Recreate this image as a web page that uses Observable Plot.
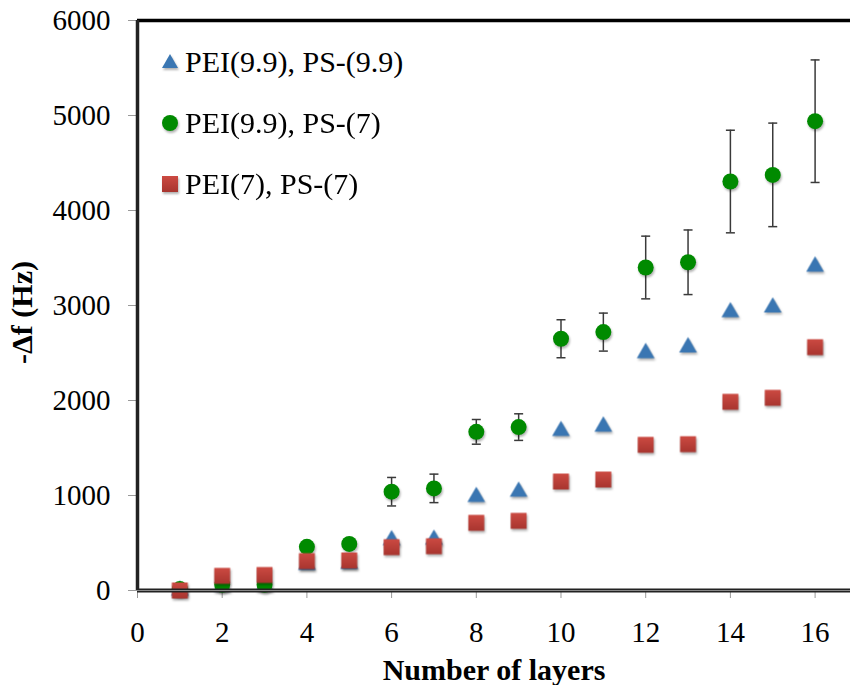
<!DOCTYPE html>
<html>
<head>
<meta charset="utf-8">
<script src="https://cdn.jsdelivr.net/npm/d3@7"></script>
<script src="https://cdn.jsdelivr.net/npm/@observablehq/plot@0.6"></script>
<style>
  body { margin: 0; background: white; }
  #wrap { position: relative; width: 850px; height: 685px; font-family: "Liberation Serif", "Times New Roman", serif; }
  #legend { position: absolute; left: 161px; top: 0; font-size: 30px; color: #000; }
  .row { position: absolute; left: 0; white-space: nowrap; display: flex; align-items: center; height: 34px; }
  .row svg { margin-right: 6px; overflow: visible; }
  .shadow { filter: drop-shadow(1px 2px 1px rgba(0,0,0,0.3)); }
  #wrap svg g[aria-label="x-axis tick label"] text, #wrap svg g[aria-label="y-axis tick label"] text,
  #wrap svg g[aria-label="x-axis"] text, #wrap svg g[aria-label="y-axis"] text { font-size: 29px; }
</style>
</head>
<body>
<div id="wrap"></div>
<script>
const layers = [1, 2, 3, 4, 5, 6, 7, 8, 9, 10, 11, 12, 13, 14, 15, 16];
const seriesNames = ["PEI(9.9), PS-(9.9)", "PEI(9.9), PS-(7)", "PEI(7), PS-(7)"];
const blueValues = [0, 40, 45, 270, 280, 530, 535, 985, 1040, 1680, 1725, 2500, 2560, 2930, 2980, 3410];
const greenValues = [15, 60, 60, 460, 490, 1040, 1075, 1670, 1720, 2650, 2720, 3400, 3455, 4305, 4375, 4940];
const greenErrors = [0, 0, 0, 0, 0, 150, 150, 130, 140, 200, 200, 330, 340, 540, 545, 645];
const redValues = [0, 154, 163, 309, 316, 456, 466, 712, 733, 1147, 1168, 1533, 1540, 1986, 2028, 2561];
const xTicks = [0, 2, 4, 6, 8, 10, 12, 14, 16];
const yTicks = [0, 1000, 2000, 3000, 4000, 5000, 6000];
const xLabel = "Number of layers";
const yLabel = "-\u0394f (Hz)";

const blue = layers.map((x, i) => ({x, y: blueValues[i]}));
const green = layers.map((x, i) => ({x, y: greenValues[i], e: greenErrors[i]}));
const greenErr = green.filter(d => d.e > 0);
const red = layers.map((x, i) => ({x, y: redValues[i]}));

const capSymbol = {draw(ctx) { ctx.moveTo(-4.5, 0); ctx.lineTo(4.5, 0); }};

const chart = Plot.plot({
  width: 850,
  height: 685,
  marginLeft: 137,
  marginRight: 0,
  marginTop: 20,
  marginBottom: 95,
  style: {fontFamily: "Liberation Serif, Times New Roman, serif", fontSize: "29px", background: "white", color: "black", overflow: "visible"},
  x: {domain: [0, 16.836], ticks: xTicks, tickSize: 8, tickPadding: 23, label: null, tickFormat: d => String(d)},
  y: {domain: [0, 6000], ticks: yTicks, tickSize: 9, tickPadding: 18, label: null, tickFormat: d => String(d)},
  marks: [
    Plot.ruleX(greenErr, {x: "x", y1: d => d.y - d.e, y2: d => d.y + d.e, stroke: "#3a3a3a", strokeWidth: 1.5}),
    Plot.dot(greenErr, {x: "x", y: d => d.y + d.e, symbol: capSymbol, stroke: "#3a3a3a", strokeWidth: 1.5, r: 5}),
    Plot.dot(greenErr, {x: "x", y: d => d.y - d.e, symbol: capSymbol, stroke: "#3a3a3a", strokeWidth: 1.5, r: 5}),
    Plot.dot(blue, {x: "x", y: "y", symbol: "triangle", fill: "#3a76b2", r: 6.6, className: "shadow"}),
    Plot.dot(green, {x: "x", y: "y", symbol: "circle", fill: "#008a00", r: 8, className: "shadow"}),
    Plot.dot(red, {x: "x", y: "y", symbol: "square", fill: "url(#redgrad)", r: 9, className: "shadow"}),
    Plot.ruleY([6000], {stroke: "#000", strokeWidth: 3.5}),
    Plot.ruleY([0], {stroke: "#222", strokeWidth: 4}),
    Plot.ruleY([0], {stroke: "#888", strokeWidth: 1}),
    Plot.ruleX([0], {stroke: "#222", strokeWidth: 3.5}),
    Plot.text([xLabel], {text: d => d, frameAnchor: "bottom", dy: 80, fontWeight: "bold", fontSize: 30, lineAnchor: "middle", textAnchor: "middle"}),
    Plot.text([yLabel], {text: d => d, frameAnchor: "left", dx: -115, dy: 7, rotate: -90, fontWeight: "bold", fontSize: 30, lineAnchor: "middle", textAnchor: "middle"})
  ]
});

const svg = d3.select(chart.tagName.toLowerCase() === "svg" ? chart : chart.querySelector("svg"));
const defs = svg.insert("defs", ":first-child");
const g = defs.append("linearGradient").attr("id", "redgrad").attr("x1", 0).attr("y1", 0).attr("x2", 0).attr("y2", 1);
g.append("stop").attr("offset", "0%").attr("stop-color", "#cc4a42");
g.append("stop").attr("offset", "100%").attr("stop-color", "#a8352f");
const lg = defs.append("linearGradient").attr("id", "redgrad2").attr("x1", 0).attr("y1", 0).attr("x2", 0).attr("y2", 1);
lg.append("stop").attr("offset", "0%").attr("stop-color", "#cc4a42");
lg.append("stop").attr("offset", "100%").attr("stop-color", "#a8352f");
svg.selectAll('g[aria-label="x-axis tick"] path, g[aria-label="y-axis tick"] path, g[aria-label="x-axis"] line, g[aria-label="y-axis"] line').attr("stroke", "#999");

const wrap = document.getElementById("wrap");
wrap.appendChild(chart);

const legend = document.createElement("div");
legend.id = "legend";
const markerSvgs = [
  '<svg width="18" height="18" viewBox="-9 -9 18 18" class="shadow"><path d="M0,-8L8,6L-8,6Z" fill="#3a76b2"/></svg>',
  '<svg width="18" height="18" viewBox="-9 -9 18 18" class="shadow"><circle r="8" fill="#008a00"/></svg>',
  '<svg width="18" height="18" viewBox="-9 -9 18 18" class="shadow"><rect x="-8" y="-8" width="16" height="16" fill="url(#redgrad2)"/></svg>'
];
const rowCenters = [62, 123, 184];
seriesNames.forEach((name, i) => {
  const row = document.createElement("div");
  row.className = "row";
  row.style.top = (rowCenters[i] - 17) + "px";
  row.innerHTML = markerSvgs[i] + "<span>" + name + "</span>";
  legend.appendChild(row);
});
wrap.appendChild(legend);
</script>
</body>
</html>
